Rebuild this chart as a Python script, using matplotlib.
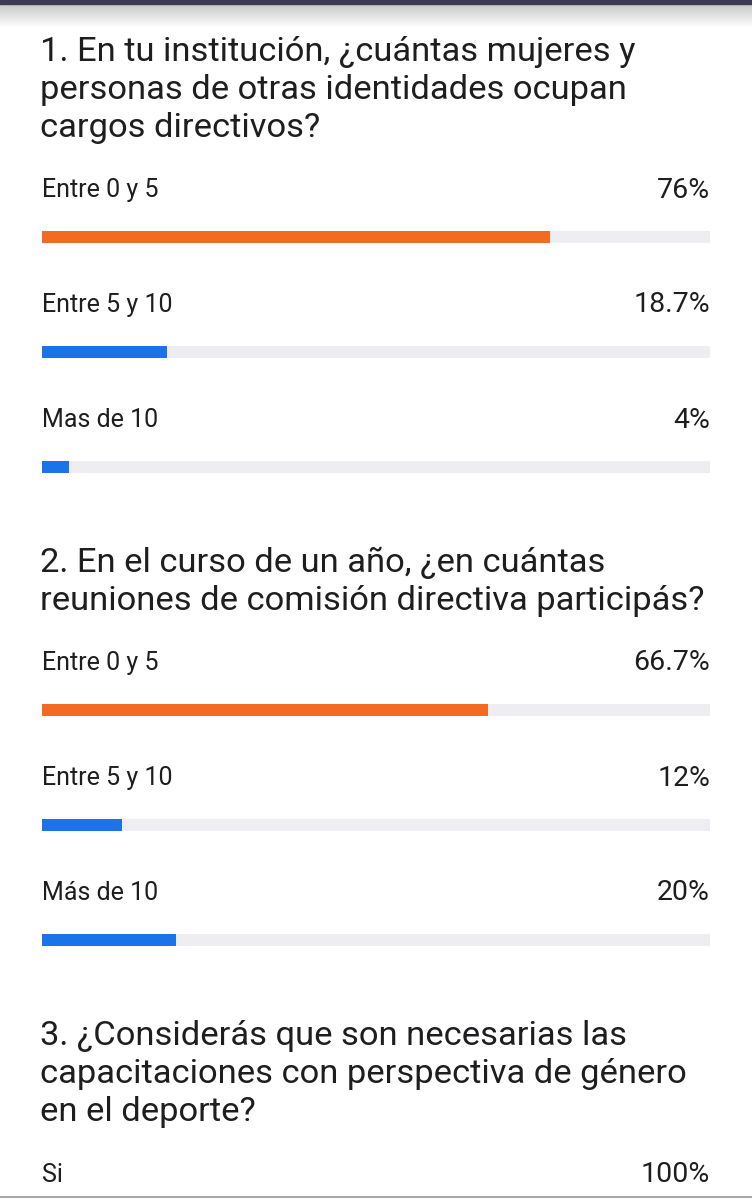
import numpy as np
import matplotlib
matplotlib.use("Agg")
import matplotlib.pyplot as plt

plt.rcParams["font.family"] = ["Roboto", "DejaVu Sans"]

# survey data
q1_title = ["1. En tu institución, ¿cuántas mujeres y",
            "personas de otras identidades ocupan",
            "cargos directivos?"]
q1_labels = ["Entre 0 y 5", "Entre 5 y 10", "Mas de 10"]
q1_values = [76, 18.7, 4]
q1_text = ["76%", "18.7%", "4%"]

q2_title = ["2. En el curso de un año, ¿en cuántas",
            "reuniones de comisión directiva participás?"]
q2_labels = ["Entre 0 y 5", "Entre 5 y 10", "Más de 10"]
q2_values = [66.7, 12, 20]
q2_text = ["66.7%", "12%", "20%"]

q3_title = ["3. ¿Considerás que son necesarias las",
            "capacitaciones con perspectiva de género",
            "en el deporte?"]
q3_labels = ["Si"]
q3_text = ["100%"]

W, H = 752, 1200
ORANGE = "#F36B22"
BLUE = "#1A73E8"
TRACK = "#EEEEF2"
TEXT = "#1E1E20"

fig = plt.figure(figsize=(W / 100, H / 100), dpi=100)
fig.patch.set_facecolor("white")

# full-figure axes in pixel coordinates for text and decoration
bg = fig.add_axes([0, 0, 1, 1])
bg.set_xlim(0, W)
bg.set_ylim(H, 0)
bg.axis("off")

# top bar with soft shadow
grad = np.linspace(0.78, 1.0, 50).reshape(-1, 1)
bg.imshow(grad, cmap="gray", vmin=0, vmax=1, extent=[0, W, 28, 4],
          aspect="auto", zorder=0)
bg.fill_between([0, W], 0, 4, color="#3C3A52", zorder=1)
bg.plot([0, W], [1197, 1197], color="#A8A8A8", lw=1.5)


def title(lines, y0):
    for i, t in enumerate(lines):
        bg.text(40, y0 + i * 38, t, fontsize=24.8, color=TEXT,
                va="center", ha="left")


def option(label, pct, y_label, value=None, color=BLUE):
    bg.text(42, y_label, label, fontsize=18, color=TEXT, va="center")
    bg.text(710, y_label, pct, fontsize=20.5, color=TEXT, va="center",
            ha="right")
    if value is None:
        return
    y_bar = y_label + 47
    ax = fig.add_axes([42 / W, 1 - (y_bar + 6) / H, 668 / W, 12 / H])
    ax.barh([0], [100], height=1, color=TRACK)
    ax.barh([0], [value], height=1, color=color)
    ax.set_xlim(0, 100)
    ax.set_ylim(-0.5, 0.5)
    ax.axis("off")


title(q1_title, 52)
for i, (lab, v, t) in enumerate(zip(q1_labels, q1_values, q1_text)):
    option(lab, t, 190 + i * 115, v, ORANGE if i == 0 else BLUE)

title(q2_title, 563)
for i, (lab, v, t) in enumerate(zip(q2_labels, q2_values, q2_text)):
    option(lab, t, 663 + i * 115, v, ORANGE if i == 0 else BLUE)

title(q3_title, 1036)
option(q3_labels[0], q3_text[0], 1175)

fig.savefig("out.png", dpi=100)
